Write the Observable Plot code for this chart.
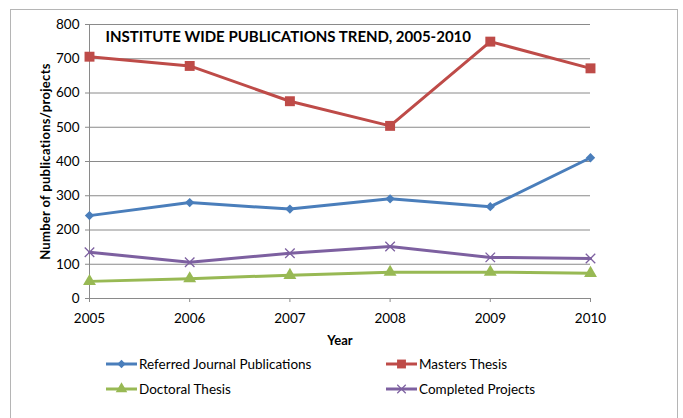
<!DOCTYPE html>
<html>
<head>
<meta charset="utf-8">
<script src="https://cdn.jsdelivr.net/npm/d3@7"></script>
<script src="https://cdn.jsdelivr.net/npm/@observablehq/plot@0.6"></script>
<style>
  html, body { margin: 0; padding: 0; background: #fff; }
  body { width: 683px; height: 418px; position: relative; overflow: hidden; font-family: Lato, "Open Sans", sans-serif; }
  #frame { position: absolute; left: 10px; top: 9px; width: 668px; height: 420px; border: 1px solid #b5b5b5; box-sizing: border-box; }
  #chart { position: absolute; left: 0; top: 0; }
  .leg { position: absolute; display: flex; align-items: center; font-size: 13.5px; color: #000; white-space: nowrap; }
  .leg svg { display: block; margin-right: 2px; }
</style>
</head>
<body>
<div id="frame"></div>
<div id="chart"></div>
<div id="legend"></div>
<script>
const years = [2005, 2006, 2007, 2008, 2009, 2010];
const seriesNames = ["Referred Journal Publications", "Masters Thesis", "Doctoral Thesis", "Completed Projects"];
const referredJournal = [242, 280, 261, 291, 268, 411];
const mastersThesis = [706, 679, 576, 504, 750, 672];
const doctoralThesis = [50, 58, 68, 77, 77, 74];
const completedProjects = [135, 106, 132, 152, 120, 117];
const yTicks = [0, 100, 200, 300, 400, 500, 600, 700, 800];
const colors = ["#4A7EBB", "#BE4B48", "#98B954", "#7D60A0"];
const symbols = ["diamond2", "square", "triangle", "times"];
const symbolR = [4.2, 5.6, 4.8, 4.4];

const allValues = [referredJournal, mastersThesis, doctoralThesis, completedProjects];
const data = [];
seriesNames.forEach((name, i) => {
  years.forEach((yr, j) => data.push({series: name, year: yr, value: allValues[i][j], idx: i}));
});

const marks = [
  Plot.gridY(yTicks, {stroke: "#8a8a8a", strokeOpacity: 1, strokeWidth: 1}),
  Plot.ruleY([0], {stroke: "#8a8a8a"}),
  Plot.ruleX([2005], {stroke: "#8a8a8a"}),
];
seriesNames.forEach((name, i) => {
  const d = data.filter(r => r.series === name);
  marks.push(Plot.line(d, {x: "year", y: "value", stroke: colors[i], strokeWidth: 3}));
  if (symbols[i] === "times") {
    marks.push(Plot.dot(d, {x: "year", y: "value", symbol: "times", r: symbolR[i], stroke: colors[i], strokeWidth: 1.3}));
  } else {
    marks.push(Plot.dot(d, {x: "year", y: "value", symbol: symbols[i], r: symbolR[i], fill: colors[i], stroke: "none"}));
  }
});
marks.push(Plot.text(["INSTITUTE WIDE PUBLICATIONS TREND, 2005-2010"], {
  frameAnchor: "top-left", dx: 16, dy: 13, textAnchor: "start", lineAnchor: "middle",
  fontWeight: "bold", fontSize: 15, fill: "#000"
}));

const plot = Plot.plot({
  width: 683,
  height: 350,
  marginLeft: 89,
  marginRight: 93,
  marginTop: 24,
  marginBottom: 52,
  style: {fontFamily: "Lato, 'Open Sans', sans-serif", fontSize: "13px", color: "#000", background: "transparent"},
  x: {type: "linear", domain: [2005, 2010]},
  y: {type: "linear", domain: [0, 800]},
  marks: [
    Plot.axisX({ticks: years, tickFormat: d3.format("d"), tickSize: 4, tickPadding: 11, stroke: "#8a8a8a", fontSize: 13.5,
      label: "Year", labelAnchor: "center", labelArrow: "none", labelOffset: 46}),
    Plot.axisY({ticks: yTicks, tickSize: 4, tickPadding: 6, stroke: "#8a8a8a", fontSize: 13.5,
      label: "Number of publications/projects", labelAnchor: "center", labelArrow: "none", labelOffset: 49}),
    ...marks
  ]
});
d3.select(plot).selectAll("[aria-label='x-axis label'] text, [aria-label='y-axis label'] text")
  .attr("font-weight", "bold").attr("font-size", 13);
d3.select(plot).selectAll("[aria-label='y-axis label'] text").attr("letter-spacing", "0.3px");
document.getElementById("chart").appendChild(plot);

// Legend
const legPos = [[106, 364], [386, 364], [106, 389], [386, 389]];
const legend = d3.select("#legend");
seriesNames.forEach((name, i) => {
  const item = legend.append("div").attr("class", "leg")
    .style("left", legPos[i][0] + "px").style("top", (legPos[i][1] - 9) + "px").style("height", "18px");
  const svg = item.append("svg").attr("width", 31).attr("height", 14);
  svg.append("line").attr("x1", 0).attr("x2", 31).attr("y1", 7).attr("y2", 7)
    .attr("stroke", colors[i]).attr("stroke-width", 3);
  const symMap = {diamond2: d3.symbolDiamond2, square: d3.symbolSquare, triangle: d3.symbolTriangle, times: d3.symbolTimes};
  const p = d3.symbol(symMap[symbols[i]], Math.PI * symbolR[i] * symbolR[i] * 0.8)();
  const s = svg.append("path").attr("d", p).attr("transform", "translate(15.5,7)");
  if (symbols[i] === "times") s.attr("fill", "none").attr("stroke", colors[i]).attr("stroke-width", 1.2);
  else s.attr("fill", colors[i]);
  item.append("span").text(name);
});
</script>
</body>
</html>
